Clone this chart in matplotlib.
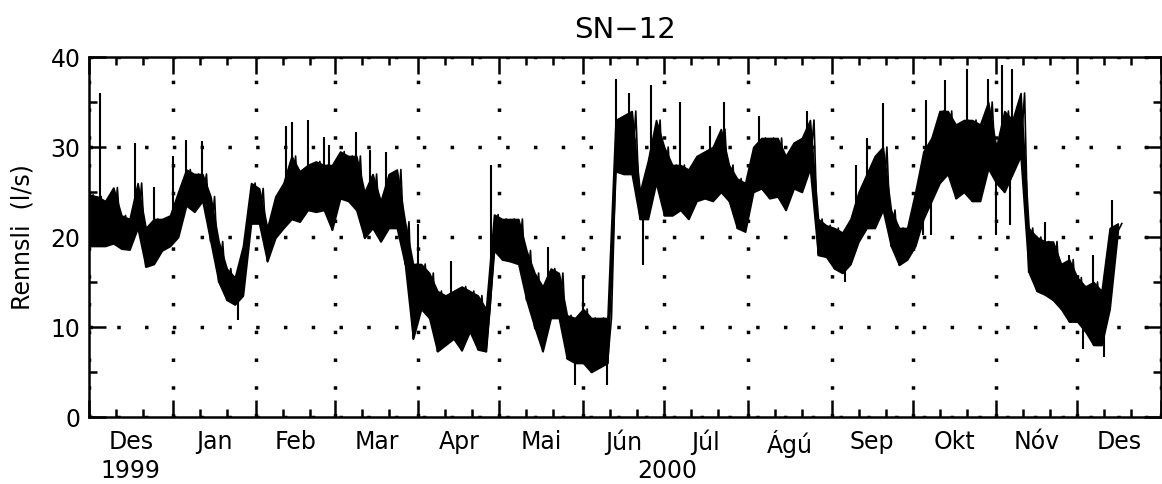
import numpy as np
import pandas as pd
import matplotlib
matplotlib.use("Agg")
import matplotlib.pyplot as plt
import matplotlib.dates as mdates

# discharge record SN-12: band of the trace read every 3 days from 1 Dec 1999
start = "1999-12-01"
step_days = 3

band_top = [24.7, 24.5, 24.0, 25.5, 22.4, 22.0, 26.0, 21.0, 22.0, 22.0,
            22.4, 25.0, 27.5, 27.0, 27.0, 24.5, 19.5, 16.5, 15.5, 19.0,
            26.0, 25.4, 21.0, 24.5, 26.0, 29.0, 27.3, 28.0, 28.4, 28.0,
            28.0, 29.5, 29.0, 29.0, 25.0, 27.0, 24.0, 27.0, 27.5, 21.7,
            17.0, 17.0, 16.0, 14.0, 13.5, 14.0, 14.5, 14.0, 13.5, 12.0,
            22.5, 22.0, 22.0, 22.0, 18.5, 16.0, 14.5, 16.5, 16.0, 11.3,
            11.0, 12.0, 11.0, 11.0, 11.0, 33.0, 33.5, 34.0, 25.0, 28.5,
            33.0, 30.0, 28.0, 28.0, 27.5, 29.0, 29.5, 30.0, 32.0, 28.0,
            26.5, 26.0, 30.0, 31.0, 31.0, 31.0, 29.0, 30.5, 31.0, 33.0,
            22.0, 21.3, 21.0, 20.5, 22.0, 25.0, 27.0, 29.0, 30.0, 23.0,
            21.0, 21.0, 25.0, 29.5, 31.0, 34.0, 34.0, 32.5, 33.0, 33.0,
            32.5, 35.0, 30.0, 34.0, 33.0, 36.0, 21.0, 20.0, 19.5, 19.5,
            17.0, 17.5, 15.5, 14.5, 15.0, 14.0, 21.0, 21.5]

band_bottom = [19.0, 19.0, 19.0, 19.3, 18.7, 18.6, 21.0, 16.7, 17.0, 18.5,
               19.0, 20.0, 23.5, 22.8, 24.0, 19.5, 15.0, 13.0, 12.5, 13.5,
               21.5, 21.5, 17.3, 19.9, 21.0, 22.0, 21.7, 23.0, 22.8, 23.0,
               20.8, 24.3, 24.0, 23.0, 19.9, 21.0, 19.5, 21.0, 21.0, 17.0,
               8.7, 12.0, 11.0, 7.3, 8.0, 8.7, 7.4, 9.5, 7.5, 7.3,
               18.5, 17.5, 17.3, 17.0, 13.0, 10.0, 7.3, 11.0, 11.0, 6.5,
               6.0, 6.0, 5.0, 5.5, 6.0, 27.3, 27.0, 27.0, 22.0, 22.0,
               26.0, 22.4, 22.4, 23.0, 22.0, 24.0, 24.3, 24.0, 25.0, 24.0,
               21.0, 20.6, 25.0, 25.4, 24.3, 24.5, 23.0, 25.4, 25.0, 27.6,
               18.0, 17.8, 16.5, 16.0, 17.0, 19.5, 21.0, 21.0, 23.0, 19.0,
               16.9, 17.5, 19.0, 22.0, 24.0, 26.0, 27.0, 24.3, 25.0, 24.0,
               24.0, 27.6, 26.0, 25.0, 27.0, 29.0, 16.1, 14.0, 13.6, 13.0,
               12.0, 10.6, 10.6, 9.5, 8.0, 8.0, 12.0, 20.6]

# single peaks that stick out of the band (day after 1 Dec 1999, l/s)
spike_day = [0, 4, 17, 24, 31, 36, 42, 55, 73, 75, 81, 87, 89, 99, 104,
             110, 122, 134, 149, 170, 180, 183, 192, 195, 200, 205, 208,
             219, 230, 235, 248, 266, 280, 284, 288, 294, 309, 310, 312,
             317, 325, 333, 336, 338, 341, 342, 354, 363, 368, 372, 376, 379]
spike_q = [33.4, 36.0, 30.4, 25.6, 29.0, 30.8, 30.7, 10.8, 32.3, 32.8, 33.0,
           31.1, 30.2, 31.7, 29.7, 29.5, 21.5, 17.3, 28.0, 18.9, 3.6, 15.6,
           3.6, 37.6, 36.0, 16.9, 36.9, 35.0, 32.3, 35.0, 33.4, 34.0, 15.0,
           28.0, 31.0, 34.9, 20.2, 35.2, 20.2, 37.4, 38.7, 37.6, 20.2, 39.1,
           21.3, 38.7, 21.7, 18.0, 7.6, 18.0, 6.7, 24.1]

months = ["Des", "Jan", "Feb", "Mar", "Apr", "Mai", "Jún",
          "Júl", "Ágú", "Sep", "Okt", "Nóv", "Des"]
years = ["1999", "2000"]

x0 = pd.Timestamp(start)
x1 = pd.Timestamp("2001-01-01")
t = pd.date_range(start, periods=len(band_top), freq=f"{step_days}D")
day = np.arange(len(band_top)) * step_days

fig = plt.figure(figsize=(11.62, 4.84), dpi=100)
ax = fig.add_axes([0.0766, 0.1384, 0.9225, 0.7438])

ax.fill_between(t, band_bottom, band_top, color="black", lw=1.2,
                edgecolor="black", zorder=3)

# zig-zag across the band for the ragged look of the hourly trace
tz = np.empty(2 * len(t), dtype="datetime64[ns]")
qz = np.empty(2 * len(t))
tz[0::2] = t.values
tz[1::2] = (t + pd.Timedelta(days=step_days / 2)).values
qz[0::2] = band_bottom
qz[1::2] = band_top
ax.plot(tz, qz, color="black", lw=1.2, zorder=3)

# spikes start from the middle of the band
lo_at = np.interp(spike_day, day, band_bottom)
hi_at = np.interp(spike_day, day, band_top)
s_t = x0 + pd.to_timedelta(spike_day, unit="D")
ax.vlines(s_t, (lo_at + hi_at) / 2, spike_q, color="black", lw=1.5, zorder=3)

ax.set_xlim(x0, x1)
ax.set_ylim(0, 40)

month_starts = pd.date_range(x0, x1, freq="MS")
ax.xaxis.set_major_locator(mdates.MonthLocator())
ax.xaxis.set_minor_locator(mdates.DayLocator(bymonthday=[11, 21]))
ax.xaxis.set_major_formatter(plt.NullFormatter())
ax.set_yticks([0, 10, 20, 30, 40])
ax.set_yticks([5, 15, 25, 35], minor=True)

ax.tick_params(which="both", direction="in", top=True, right=True, width=1.8)
ax.tick_params(which="major", length=12, labelsize=17, pad=6)
ax.tick_params(which="minor", length=6)

for sp in ax.spines.values():
    sp.set_linewidth(1.8)

# dotted grid at month boundaries and every 10 l/s
ax.grid(True, which="major", color="black", lw=2.5, ls=(0, (1, 7)))

for i, name in enumerate(months):
    mid = month_starts[i] + (month_starts[i + 1] - month_starts[i]) / 2
    ax.annotate(name, xy=(mid, 0), xycoords=("data", "axes fraction"),
                xytext=(0, -9), textcoords="offset points",
                ha="center", va="top", fontsize=17)

year_mid = [x0 + (pd.Timestamp("2000-01-01") - x0) / 2,
            pd.Timestamp("2000-01-01") + (x1 - pd.Timestamp("2000-01-01")) / 2]
for name, mid in zip(years, year_mid):
    ax.annotate(name, xy=(mid, 0), xycoords=("data", "axes fraction"),
                xytext=(0, -30), textcoords="offset points",
                ha="center", va="top", fontsize=17)

ax.set_ylabel("Rennsli  (l/s)", fontsize=17, labelpad=12)
ax.set_title("SN\u221212", fontsize=21, pad=14)

fig.savefig("out.png", dpi=100)
